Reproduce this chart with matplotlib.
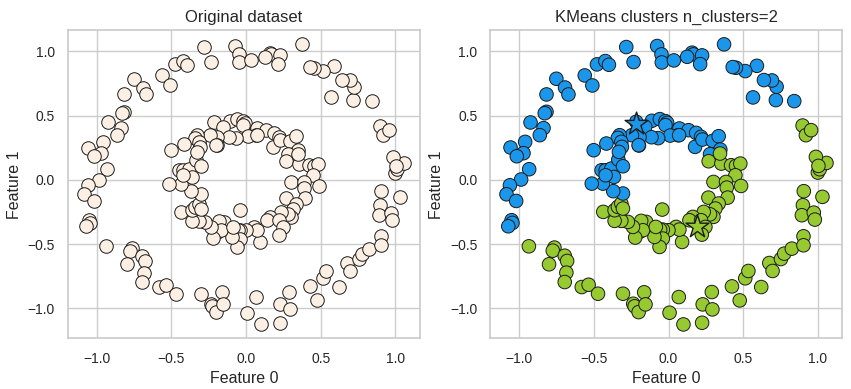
import numpy as np
import matplotlib
matplotlib.use('Agg')
import matplotlib.pyplot as plt
import seaborn as sns

sns.set_theme(style='whitegrid')
plt.rcParams['font.family'] = ['Liberation Sans', 'DejaVu Sans']

# ---- data (outer ring, inner ring) ----
outer_x = [-0.283, -0.076, -0.047, -0.045, 0.036, -0.234, -0.479, -0.423, -0.399, -0.561,
           -0.510, -0.751, -0.693, -0.670, -0.817, -0.817, -0.829, -0.924, -0.837, -0.862,
           -0.960, -1.058, -0.971, -1.016, -0.933, -0.987, -1.062, -1.085, -1.020, -1.051,
           -1.045, -1.073, -0.935, -0.764, -0.775, -0.800, -0.695, -0.679, -0.684, -0.695,
           -0.581, -0.535, -0.472, -0.305, -0.236, -0.227, -0.200, -0.163, -0.154, 0.007,
           0.069, 0.100, 0.229, 0.290, 0.294, 0.225, 0.425, 0.477, 0.514, 0.535,
           0.621, 0.675, 0.697, 0.753, 0.775, 0.826, 0.904, 0.904, 0.900, 0.893,
           0.973, 0.980, 0.906, 1.031, 1.000, 1.013, 1.058, 0.987, 1.004, 0.898,
           0.920, 0.955, 0.842, 0.719, 0.724, 0.693, 0.639, 0.566, 0.592, 0.514,
           0.452, 0.430, 0.372, 0.158, 0.167, 0.225, 0.125, 0.212]
outer_y = [1.034, 1.042, 0.977, 0.914, 0.930, 0.917, 0.899, 0.925, 0.896, 0.813,
           0.735, 0.787, 0.719, 0.665, 0.665, 0.530, 0.519, 0.447, 0.403, 0.348,
           0.296, 0.252, 0.208, 0.184, 0.083, 0.003, -0.042, -0.112, -0.164, -0.314,
           -0.335, -0.361, -0.517, -0.527, -0.551, -0.657, -0.590, -0.631, -0.722, -0.795,
           -0.834, -0.816, -0.886, -0.886, -0.964, -0.984, -1.029, -0.875, -0.969, -1.034,
           -0.912, -1.125, -0.969, -0.873, -1.008, -1.112, -0.829, -0.938, -0.766, -0.709,
           -0.834, -0.647, -0.709, -0.616, -0.574, -0.535, -0.439, -0.509, -0.197, -0.275,
           -0.255, -0.309, -0.088, -0.132, 0.057, 0.083, 0.132, 0.179, 0.109, 0.423,
           0.348, 0.387, 0.613, 0.621, 0.725, 0.774, 0.777, 0.642, 0.888, 0.847,
           0.873, 0.878, 1.055, 0.990, 0.977, 0.969, 0.958, 0.901]

inner_x = [-0.216, -0.111, -0.058, -0.020, -0.009, -0.020, -0.156, 0.073, 0.134, 0.185,
           0.218, 0.065, 0.011, -0.069, -0.114, -0.194, -0.245, -0.327, -0.339, -0.316,
           -0.312, -0.198, -0.416, -0.501, 0.178, 0.227, 0.296, 0.336, 0.347, 0.278,
           0.269, 0.354, 0.419, 0.452, 0.481, 0.448, 0.301, 0.385, 0.390, 0.486,
           0.396, 0.267, 0.336, 0.314, 0.301, 0.278, 0.236, 0.163, 0.140, 0.218,
           0.247, 0.223, 0.091, 0.051, 0.073, 0.000, -0.038, -0.056, -0.038, -0.060,
           -0.094, -0.149, -0.183, -0.194, -0.171, -0.223, -0.238, -0.272, -0.316, -0.361,
           -0.437, -0.361, -0.339, -0.316, -0.305, -0.370, -0.305, -0.042, -0.439, -0.514,
           -0.448, -0.421, -0.383, -0.365, -0.421, -0.336, -0.305, -0.332, 0.345, -0.085,
           0.071, -0.200]
inner_y = [0.452, 0.460, 0.473, 0.457, 0.444, 0.426, 0.413, 0.400, 0.387, 0.366,
           0.335, 0.348, 0.345, 0.325, 0.332, 0.332, 0.348, 0.348, 0.327, 0.296,
           0.257, 0.268, 0.283, 0.231, 0.257, 0.314, 0.304, 0.340, 0.236, 0.200,
           0.145, 0.127, 0.114, 0.109, 0.127, 0.036, -0.016, -0.016, -0.060, -0.047,
           -0.138, -0.138, -0.184, -0.223, -0.288, -0.268, -0.249, -0.288, -0.314, -0.314,
           -0.366, -0.426, -0.483, -0.366, -0.387, -0.392, -0.387, -0.387, -0.457, -0.522,
           -0.444, -0.327, -0.319, -0.405, -0.392, -0.449, -0.366, -0.327, -0.319, -0.319,
           -0.249, -0.236, -0.210, -0.184, -0.106, -0.088, -0.223, -0.231, -0.029, -0.029,
           0.075, 0.075, 0.088, 0.023, 0.036, 0.158, 0.106, 0.218, 0.205, -0.366,
           0.348, 0.270]

# cluster centres (stars)
centers_x = [-0.214, 0.194]
centers_y = [0.434, -0.366]

X = np.column_stack([outer_x + inner_x, outer_y + inner_y])
C = np.column_stack([centers_x, centers_y])
# kmeans assignment: nearest centre
d = ((X[:, None, :] - C[None, :, :])**2).sum(axis=2)
labels = d.argmin(axis=1)

colors = np.array(['#1a97eb', '#97c930'])

fig, axes = plt.subplots(1, 2, figsize=(8.51, 3.89), dpi=100)
fig.subplots_adjust(left=0.08, right=0.99, bottom=0.13, top=0.922, wspace=0.2)

ax = axes[0]
ax.scatter(X[:, 0], X[:, 1], s=95, c='#fcf0e4', edgecolors='k', linewidths=0.7)
ax.set_title('Original dataset', fontsize=12)
ax.set_xlabel('Feature 0', fontsize=11.5)
ax.set_ylabel('Feature 1', fontsize=11.5)

ax = axes[1]
ax.scatter(X[:, 0], X[:, 1], s=95, c=colors[labels], edgecolors='k', linewidths=0.7)
ax.scatter(C[:, 0], C[:, 1], s=300, marker='*', c=colors, edgecolors='k', linewidths=1.0)
ax.set_title('KMeans clusters n_clusters=2', fontsize=12)
ax.set_xlabel('Feature 0', fontsize=11.5)
ax.set_ylabel('Feature 1', fontsize=11.5)

for ax in axes:
    ax.tick_params(labelsize=10)
    ax.set_xticks([-1.0, -0.5, 0.0, 0.5, 1.0])
    ax.set_yticks([-1.0, -0.5, 0.0, 0.5, 1.0])

plt.savefig('out.png')
